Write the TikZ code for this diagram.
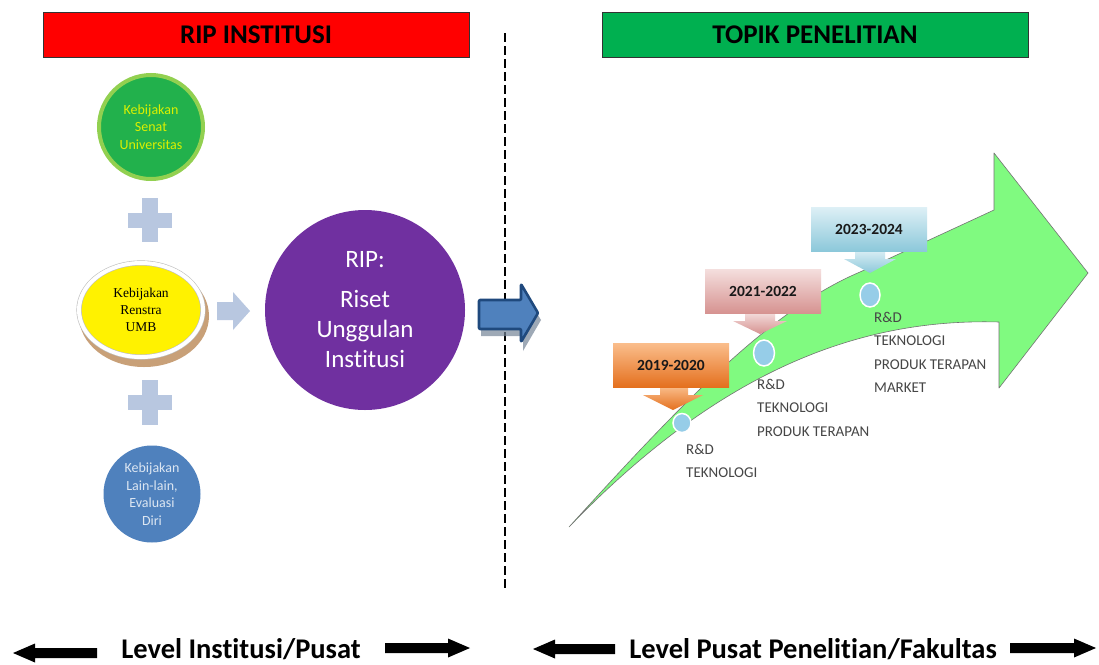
\documentclass[tikz,border=0pt]{standalone}
\usepackage{fontspec}
\setmainfont{Carlito}[RawFeature=-liga]
\newfontfamily\umbserif{Liberation Serif}
\usetikzlibrary{shapes.geometric,calc}
\definecolor{hdrred}{RGB}{255,0,0}
\definecolor{hdrgreen}{RGB}{0,176,80}
\definecolor{senatfill}{RGB}{34,177,76}
\definecolor{senatring}{RGB}{146,208,80}
\definecolor{senattext}{RGB}{220,240,0}
\definecolor{plusc}{RGB}{184,199,224}
\definecolor{umbtan}{RGB}{200,160,120}
\definecolor{lainfill}{RGB}{79,129,189}
\definecolor{laintext}{RGB}{220,230,242}
\definecolor{ripfill}{RGB}{112,48,160}
\definecolor{darkblue}{RGB}{31,73,125}
\definecolor{bigarrow}{RGB}{128,250,128}
\definecolor{dotblue}{RGB}{150,205,232}
\definecolor{labelgray}{RGB}{70,70,70}
\definecolor{orangeT}{RGB}{250,190,140}
\definecolor{orangeB}{RGB}{228,112,30}
\definecolor{pinkT}{RGB}{244,222,221}
\definecolor{pinkB}{RGB}{214,146,144}
\definecolor{blueT}{RGB}{222,240,246}
\definecolor{blueB}{RGB}{140,200,218}
\tikzset{
  hdrbox/.style={draw=black!80,line width=1pt,minimum width=426pt,minimum height=45pt,inner sep=0pt,
    font=\bfseries\fontsize{27}{30}\selectfont,text=black},
  smallcircle/.style={circle,inner sep=0pt,align=center,font=\fontsize{14}{17.5}\selectfont},
  plusshape/.style={fill=plusc},
  yearbox/.style={minimum width=116pt,minimum height=44pt,inner sep=0pt,
    font=\bfseries\fontsize{15.5}{18}\selectfont,text=black!90},
  dotnode/.style={ellipse,fill=dotblue,draw=white,line width=1.5pt,inner sep=0pt},
  rdlabel/.style={anchor=north west,inner sep=0pt,align=left,text=labelgray,
    font=\fontsize{15}{23.5}\selectfont},
  levelarrow/.style={fill=black},
  leveltext/.style={font=\bfseries\fontsize{28.5}{30}\selectfont,inner sep=0pt}
}
\begin{document}
\begin{tikzpicture}[x=1pt,y=-1pt]
\useasboundingbox (0,0) rectangle (1099,664);
\fill[white] (0,0) rectangle (1099,664);

% headers
\node[hdrbox,fill=hdrred] (h1) at (256,34.5) {RIP INSTITUSI};
\node[hdrbox,fill=hdrgreen] (h2) at (815,34.5) {TOPIK PENELITIAN};

% dashed divider
\coordinate (dtop) at (505,33);
\coordinate (dbot) at (505,590);
\draw[line width=2.6pt,dash pattern=on 9pt off 4pt] (dtop) -- (dbot);

% left column
\node[smallcircle,fill=senatfill,draw=senatring,line width=4pt,minimum size=104pt,text=senattext]
  (senat) at (151,127) {Kebijakan\\Senat\\Universitas};

\fill[plusshape] (128,212.5) rectangle (172,227.5);
\fill[plusshape] (142,198) rectangle (158,242);

\fill[umbtan] (144,316) ellipse [x radius=65, y radius=51];
\node[ellipse,fill=yellow,draw=black!25,double=white,double distance=4pt,line width=0.6pt,
  minimum width=124pt,minimum height=94pt,inner sep=0pt,align=center,
  font=\umbserif\fontsize{13.5}{17}\selectfont] (renstra) at (141,310) {Kebijakan\\Renstra\\UMB};

\fill[plusshape] (128,395) rectangle (172,410);
\fill[plusshape] (142,380) rectangle (158,425);

\node[smallcircle,fill=lainfill,minimum size=97pt,text=laintext]
  (lain) at (152,494) {Kebijakan\\Lain-lain,\\Evaluasi\\Diri};

% small arrow to RIP
\fill[plusshape] (217,302) -- (233,302) -- (233,292) -- (250,311) -- (233,330) -- (233,320) -- (217,320) -- cycle;

% RIP circle
\node[circle,fill=ripfill,minimum size=200pt,inner sep=0pt,align=center,text=white,
  font=\fontsize{25}{30}\selectfont] (rip) at (365,310) {RIP:\\[10pt]Riset\\Unggulan\\Institusi};

% dark blue block arrow (shadow + arrow)
\fill[darkblue!45!gray!80,opacity=0.7] (481,305) -- (523,305) -- (523,291) -- (541,320) -- (523,351) -- (523,336) -- (481,336) -- cycle;
\filldraw[fill=lainfill,draw=darkblue,line width=2.6pt,line join=round,rounded corners=1pt]
  (479,300) -- (521,300) -- (521,284) -- (538,313) -- (521,342) -- (521,329) -- (479,329) -- cycle;

% big green arrow
\filldraw[fill=bigarrow,draw=black!55,line width=0.6pt,line join=round]
  (569,527) .. controls (680,405) and (770,310) .. (860,272)
  -- (994,210) -- (994,153) -- (1088,273) -- (999,388) -- (999,322)
  .. controls (860,318) and (720,370) .. (569,527) -- cycle;

% year callouts
\shade[top color=orangeT,bottom color=orangeB]
  (660,386) -- (688,386) -- (688,395) -- (703,395) -- (673,410) -- (643,395) -- (660,395) -- cycle;
\node[yearbox,top color=orangeT,bottom color=orangeB] (y1) at (671,365) {2019-2020};

\shade[top color=pinkT,bottom color=pinkB]
  (745,312) -- (775,312) -- (775,321) -- (787,321) -- (760,334) -- (733,321) -- (745,321) -- cycle;
\node[yearbox,top color=pinkT,bottom color=pinkB] (y2) at (763,291.5) {2021-2022};

\shade[top color=blueT,bottom color=blueB]
  (855,249) -- (885,249) -- (885,259) -- (896,259) -- (870,273) -- (844,259) -- (855,259) -- cycle;
\node[yearbox,top color=blueT,bottom color=blueB] (y3) at (869,229) {2023-2024};

% dots
\node[dotnode,minimum width=18pt,minimum height=19pt] (d1) at (682,423) {};
\node[dotnode,minimum width=21pt,minimum height=26pt] (d2) at (764,353) {};
\node[dotnode,minimum width=20pt,minimum height=24pt] (d3) at (870,295) {};

% stage labels
\node[rdlabel] (l1) at (686,444) {R\&D\\TEKNOLOGI};
\node[rdlabel] (l2) at (757,379) {R\&D\\TEKNOLOGI\\PRODUK TERAPAN};
\node[rdlabel] (l3) at (874,312) {R\&D\\TEKNOLOGI\\PRODUK TERAPAN\\MARKET};

% bottom level labels
\fill[levelarrow] (13,653) -- (35,643.5) -- (35,648) -- (97,648) -- (97,658) -- (35,658) -- (35,662.5) -- cycle;
\node[leveltext] (t1) at (241,649) {Level Institusi/Pusat};
\fill[levelarrow] (385,643) -- (448,643) -- (448,638.5) -- (470,648) -- (448,657.5) -- (448,653) -- (385,653) -- cycle;
\fill[levelarrow] (533,649) -- (555,639.5) -- (555,644) -- (615,644) -- (615,654) -- (555,654) -- (555,658.5) -- cycle;
\node[leveltext] (t2) at (813,649) {Level Pusat Penelitian/Fakultas};
\fill[levelarrow] (1010,643) -- (1074,643) -- (1074,638.5) -- (1096,648) -- (1074,657.5) -- (1074,653) -- (1010,653) -- cycle;
\end{tikzpicture}
\end{document}
